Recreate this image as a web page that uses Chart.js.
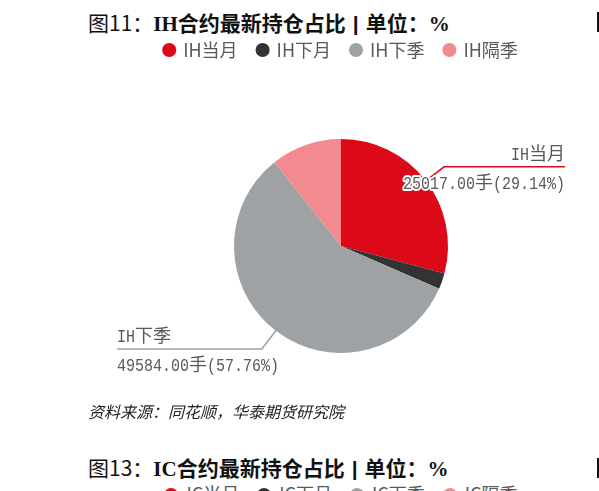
<!DOCTYPE html>
<html>
<head>
<meta charset="utf-8">
<script src="https://cdn.jsdelivr.net/npm/chart.js@4"></script>
<style>
  html, body { margin: 0; padding: 0; background: #fff; }
  body { width: 599px; height: 491px; overflow: hidden; position: relative; font-family: "Noto Sans CJK SC", sans-serif; }
  .title { position: absolute; left: 88px; font-size: 21px; color: #111; white-space: nowrap; line-height: 24px; }
  .title b { font-weight: 700; }
  .title .lat { font-family: "Liberation Serif", serif; font-weight: 700; }
  .title .sep { font-family: "Liberation Sans", sans-serif; font-weight: 700; margin: 0 7px; }
  .bar { position: absolute; left: 597px; width: 3px; height: 20px; background: #111; }
  #box { position: absolute; left: 83px; top: 21px; width: 516px; height: 422px; }
  .src { position: absolute; left: 88px; top: 399px; font-size: 16px; font-style: italic; color: #222; }
  .leg2 { position: absolute; top: 480px; left: 83px; width: 516px; text-align: center; font-size: 18px; color: #595959; white-space: nowrap; }
  .leg2 span { margin: 0 9px; }
  .leg2 i { display: inline-block; width: 14px; height: 14px; border-radius: 7px; margin-right: 8px; vertical-align: -1px; }
</style>
</head>
<body>
<div class="title" style="top:10px">图11：<b><span class="lat">IH</span>合约最新持仓占比<span class="sep">|</span>单位：<span class="lat">%</span></b></div>
<div class="bar" style="top:12px"></div>
<div id="box"><canvas id="pieChart"></canvas></div>
<div class="src">资料来源：同花顺，华泰期货研究院</div>
<div class="title" style="top:455px">图13：<b><span class="lat">IC</span>合约最新持仓占比<span class="sep">|</span>单位：<span class="lat">%</span></b></div>
<div class="bar" style="top:458px"></div>
<div class="leg2">
  <span><i style="background:#DC0A18"></i>IC当月</span><span><i style="background:#333333"></i>IC下月</span><span><i style="background:#9FA2A5"></i>IC下季</span><span><i style="background:#F38A8F"></i>IC隔季</span>
</div>
<script>
// 持仓手数
const labels = ['IH当月', 'IH下月', 'IH下季', 'IH隔季'];
const lots = [25017, 2070, 49584, 9180];
const colors = ['#DC0A18', '#333333', '#9FA2A5', '#F38A8F'];
const labelled = [0, 2];   // only these slices get an outside label

const total = lots.reduce((a, b) => a + b, 0);

const FS = 18;           // label font size
const HALF = FS / 2;     // half-width advance for latin chars

// split text into latin / cjk runs so digits get a narrow monospaced look
function runs(text) {
    const out = [];
    for (const ch of text) {
        const cjk = ch.charCodeAt(0) > 0x2000;
        const last = out[out.length - 1];
        if (last && last.cjk === cjk) last.s += ch;
        else out.push({ s: ch, cjk: cjk });
    }
    return out;
}

function runWidth(r) {
    return r.cjk ? r.s.length * FS : r.s.length * HALF;
}

function drawMixed(c, text, x, y, align, halo) {
    const rs = runs(text);
    const w = rs.reduce((a, r) => a + runWidth(r), 0);
    let cx = align === 'right' ? x - w : x;
    rs.forEach(r => {
        c.save();
        c.textAlign = 'left';
        c.textBaseline = 'alphabetic';
        if (r.cjk) {
            c.font = FS + 'px "Noto Sans CJK SC", sans-serif';
            c.translate(cx, y);
        } else {
            c.font = FS + 'px "Liberation Mono", monospace';
            c.translate(cx, y);
            c.scale(HALF / (FS * 0.6), 1);
        }
        if (halo) {
            c.lineJoin = 'round';
            c.strokeStyle = '#fff';
            c.lineWidth = 4;
            c.strokeText(r.s, 0, 0);
        }
        c.fillStyle = '#595959';
        c.fillText(r.s, 0, 0);
        c.restore();
        cx += runWidth(r);
    });
}

// outside labels with leader lines
const leaderLabels = {
    id: 'leaderLabels',
    afterDraw(chart) {
        const c = chart.ctx;
        const meta = chart.getDatasetMeta(0);
        labelled.forEach(i => {
            const arc = meta.data[i];
            const mid = (arc.startAngle + arc.endAngle) / 2;
            const r = arc.outerRadius;
            const x0 = arc.x + Math.cos(mid) * (r - 2);
            const y0 = arc.y + Math.sin(mid) * (r - 2);
            const x1 = arc.x + Math.cos(mid) * (r + 23);
            const y1 = arc.y + Math.sin(mid) * (r + 23);
            const right = Math.cos(mid) >= 0;
            const x2 = arc.x + (right ? 224 : -224);

            c.save();
            c.strokeStyle = colors[i];
            c.lineWidth = 1.6;
            c.beginPath();
            c.moveTo(x0, y0);
            c.lineTo(x1, y1);
            c.lineTo(x2, y1);
            c.stroke();
            c.restore();

            const pct = (lots[i] / total * 100).toFixed(2);
            const txt = lots[i].toFixed(2) + '手(' + pct + '%)';
            const align = right ? 'right' : 'left';
            drawMixed(c, labels[i], x2, y1 - 7, align, false);
            drawMixed(c, txt, x2, y1 + 22, align, true);
        });
    }
};

const ctx = document.getElementById('pieChart').getContext('2d');

const chart = new Chart(ctx, {
    type: 'pie',
    data: {
        labels: labels,
        datasets: [{
            data: lots,
            backgroundColor: colors,
            borderWidth: 0,
            radius: 107
        }]
    },
    options: {
        responsive: true,
        maintainAspectRatio: false,
        animation: false,
        layout: { padding: { top: 0, bottom: 20 } },
        plugins: {
            legend: {
                position: 'top',
                labels: {
                    usePointStyle: true,
                    pointStyle: 'circle',
                    boxWidth: 10,
                    boxHeight: 10,
                    padding: 20,
                    color: '#595959',
                    font: { family: '"Noto Sans CJK SC", sans-serif', size: 18 }
                }
            },
            tooltip: { enabled: false }
        }
    },
    plugins: [leaderLabels]
});
</script>
</body>
</html>
